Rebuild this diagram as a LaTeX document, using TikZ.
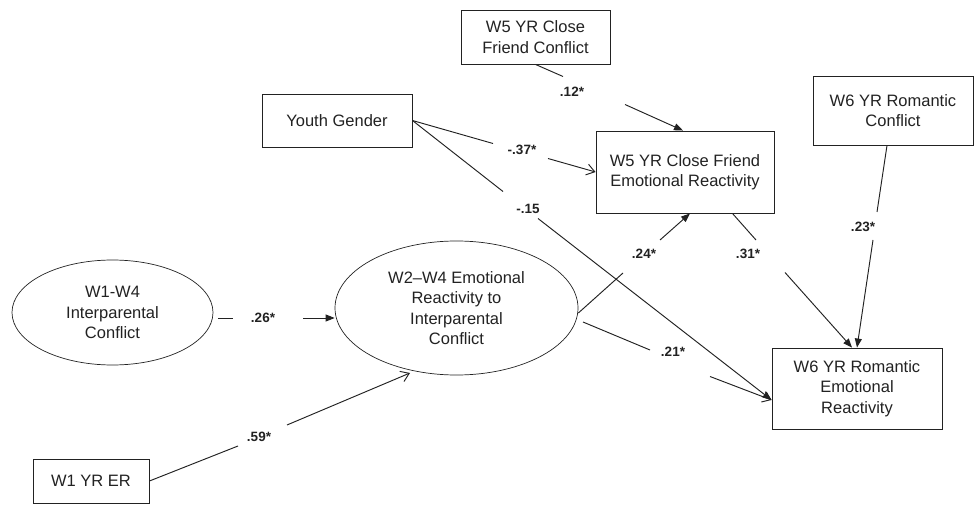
\documentclass[tikz,border=0pt]{standalone}
\usepackage{fontspec}
\setmainfont{Liberation Sans}
\usetikzlibrary{shapes.geometric,arrows.meta,calc}
\definecolor{ink}{HTML}{222222}
\tikzset{
  box/.style={draw=ink, line width=0.9pt, rectangle, inner sep=0pt, align=center, text=ink,
              font=\fontsize{16.5}{20.5}\selectfont},
  ell/.style={draw=ink, line width=0.7pt, ellipse, inner sep=0pt, align=center, text=ink,
              font=\fontsize{16.5}{20.5}\selectfont},
  lbl/.style={inner sep=0pt, text=ink, font=\bfseries\fontsize{13.5}{15}\selectfont},
  conn/.style={draw=ink, line width=0.95pt},
  fa/.style={conn, -{Triangle[length=9pt,width=7pt]}},
  oa/.style={conn, -{Straight Barb[length=8pt,width=11pt,line width=0.95pt]}}
}
\begin{document}
\begin{tikzpicture}[x=1pt,y=-1pt]
\useasboundingbox (0,0) rectangle (975,505);

% nodes
\node[box, minimum width=149pt, minimum height=54pt] (cfc) at (535.5,37) {W5 YR Close\\Friend Conflict};
\node[box, minimum width=150pt, minimum height=53pt] (yg) at (337,120.5) {Youth Gender};
\node[box, minimum width=178pt, minimum height=82pt] (cfer) at (685,172) {W5 YR Close Friend\\Emotional Reactivity};
\node[box, minimum width=160pt, minimum height=69pt] (rc) at (893,110.5) {W6 YR Romantic\\Conflict};
\node[box, minimum width=170pt, minimum height=81pt] (rer) at (857,388.5) {W6 YR Romantic\\Emotional\\Reactivity};
\node[box, minimum width=116pt, minimum height=44pt] (w1) at (91,481) {W1 YR ER};
\node[ell, minimum width=201pt, minimum height=105pt] (e1) at (112.5,312.5) {W1-W4\\Interparental\\Conflict};
\node[ell, minimum width=243pt, minimum height=134pt] (e2) at (456.5,308) {W2--W4 Emotional\\Reactivity to\\Interparental\\Conflict};

% gap coordinates
\coordinate (a1) at (563,76.5);  \coordinate (b1) at (625,104.5);
\coordinate (a2) at (493,143.5); \coordinate (b2) at (548,158.5);
\coordinate (a3) at (503,191.5); \coordinate (b3) at (538,218.5);
\coordinate (s4) at (218,318);   \coordinate (a4) at (233,318); \coordinate (b4) at (303,318);
\coordinate (a5) at (238,446);   \coordinate (b5) at (287,425); \coordinate (t5) at (410,373);
\coordinate (a6) at (623,273);   \coordinate (b6) at (660,240);
\coordinate (s7) at (583,322);   \coordinate (a7) at (650,350); \coordinate (b7) at (710,376.5);
\coordinate (a8) at (756,240);   \coordinate (b8) at (785,272.5);
\coordinate (a9) at (877,212);   \coordinate (b9) at (873,240);

% connectors
\draw[conn] (cfc.south) -- (a1);
\draw[fa] (b1) -- ($(cfer.north)+(-2,0)$);
\node[lbl] (l1) at (572,92) {.12*};

\draw[conn] (yg.east) -- (a2);
\draw[oa] (b2) -- (cfer.west);
\node[lbl] (l2) at (522,150) {-.37*};

\draw[conn] (yg.east) -- (a3);
\draw[fa] (b3) -- ($(rer.west)+(0,11.5)$);
\node[lbl] (l3) at (528,209) {-.15};

\draw[conn] (s4) -- (a4);
\draw[fa] (b4) -- (e2.west |- b4);
\node[lbl] (l4) at (263,318) {.26*};

\draw[conn] (w1.east) -- (a5);
\draw[oa] (b5) -- (t5);
\node[lbl] (l5) at (259,437) {.59*};

\draw[conn] ($(e2.east)+(0,5)$) -- (a6);
\draw[fa] (b6) -- ($(cfer.south)+(5,0)$);
\node[lbl] (l6) at (644,254) {.24*};

\draw[conn] (s7) -- (a7);
\draw[oa] (b7) -- ($(rer.west)+(0,11.5)$);
\node[lbl] (l7) at (673,352) {.21*};

\draw[conn] ($(cfer.south east)+(-42,0)$) -- (a8);
\draw[fa] (b8) -- ($(rer.north)+(-5,0)$);
\node[lbl] (l8) at (748,254) {.31*};

\draw[conn] ($(rc.south)+(-6,0)$) -- (a9);
\draw[fa] (b9) -- (rer.north);
\node[lbl] (l9) at (863,227) {.23*};
\end{tikzpicture}
\end{document}
